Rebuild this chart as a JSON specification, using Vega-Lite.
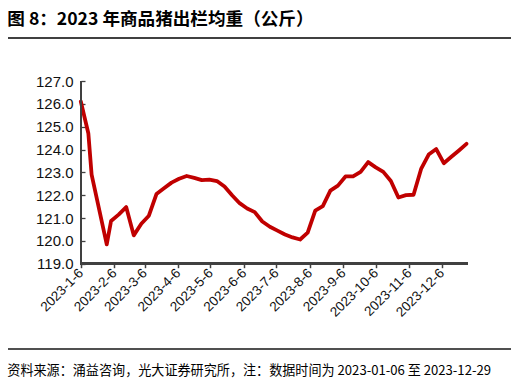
{
  "$schema": "https://vega.github.io/schema/vega-lite/v6.json",
  "background": "white",
  "padding": {"left": 7, "top": 10, "right": 6, "bottom": 4},
  "config": {"view": {"stroke": null}, "font": "Liberation Sans", "axis": {"labelOverlap": false}},
  "title": {
    "text": "资料来源：涌益咨询，光大证券研究所，注：数据时间为 2023-01-06 至 2023-12-29",
    "orient": "bottom", "anchor": "start", "font": "Noto Sans CJK SC",
    "fontSize": 13.1, "fontWeight": "normal", "color": "#000000", "offset": 15
  },
  "vconcat": [
    {
      "title": {
        "text": "图 8：2023 年商品猪出栏均重（公斤）",
        "anchor": "start", "font": "Noto Sans CJK SC", "fontSize": 17.6,
        "fontWeight": "bold", "color": "#000000", "offset": 9
      },
      "width": 503,
      "height": 311,
      "data": {
        "values": [
          {"date": "2023/01/06", "w": 126.1},
          {"date": "2023/01/13", "w": 124.7},
          {"date": "2023/01/16", "w": 122.9},
          {"date": "2023/01/30", "w": 119.85},
          {"date": "2023/02/03", "w": 120.87},
          {"date": "2023/02/10", "w": 121.15},
          {"date": "2023/02/17", "w": 121.48},
          {"date": "2023/02/24", "w": 120.24},
          {"date": "2023/03/03", "w": 120.75},
          {"date": "2023/03/10", "w": 121.1},
          {"date": "2023/03/17", "w": 122.05},
          {"date": "2023/03/24", "w": 122.3},
          {"date": "2023/03/31", "w": 122.55},
          {"date": "2023/04/07", "w": 122.72},
          {"date": "2023/04/14", "w": 122.84},
          {"date": "2023/04/21", "w": 122.76},
          {"date": "2023/04/28", "w": 122.66},
          {"date": "2023/05/05", "w": 122.68},
          {"date": "2023/05/12", "w": 122.62},
          {"date": "2023/05/19", "w": 122.38},
          {"date": "2023/05/26", "w": 122.0},
          {"date": "2023/06/02", "w": 121.65},
          {"date": "2023/06/09", "w": 121.42},
          {"date": "2023/06/16", "w": 121.26},
          {"date": "2023/06/23", "w": 120.85},
          {"date": "2023/06/30", "w": 120.62},
          {"date": "2023/07/07", "w": 120.45},
          {"date": "2023/07/14", "w": 120.28},
          {"date": "2023/07/21", "w": 120.15},
          {"date": "2023/07/28", "w": 120.06},
          {"date": "2023/08/04", "w": 120.36},
          {"date": "2023/08/11", "w": 121.32},
          {"date": "2023/08/18", "w": 121.52},
          {"date": "2023/08/25", "w": 122.2},
          {"date": "2023/09/01", "w": 122.42},
          {"date": "2023/09/08", "w": 122.82},
          {"date": "2023/09/15", "w": 122.82},
          {"date": "2023/09/22", "w": 123.02},
          {"date": "2023/09/29", "w": 123.45},
          {"date": "2023/10/06", "w": 123.22},
          {"date": "2023/10/13", "w": 123.02},
          {"date": "2023/10/20", "w": 122.62},
          {"date": "2023/10/27", "w": 121.9},
          {"date": "2023/11/03", "w": 122.0},
          {"date": "2023/11/10", "w": 122.02},
          {"date": "2023/11/17", "w": 123.15},
          {"date": "2023/11/24", "w": 123.78},
          {"date": "2023/12/01", "w": 124.02},
          {"date": "2023/12/08", "w": 123.4},
          {"date": "2023/12/15", "w": 123.68},
          {"date": "2023/12/22", "w": 123.96},
          {"date": "2023/12/29", "w": 124.25}
        ]
      },
      "layer": [
        {
          "mark": {"type": "line", "color": "#C00000", "strokeWidth": 3.8, "strokeJoin": "round", "strokeCap": "round"},
          "encoding": {
            "x": {
              "field": "date", "type": "temporal",
              "scale": {"domain": [
                {"year": 2022, "month": 10, "date": 30, "hours": 14, "minutes": 24},
                {"year": 2024, "month": 2, "date": 8, "hours": 5}
              ]},
              "axis": {
                "values": [
                  {"year": 2023, "month": 1, "date": 6},
                  {"year": 2023, "month": 2, "date": 6},
                  {"year": 2023, "month": 3, "date": 6},
                  {"year": 2023, "month": 4, "date": 6},
                  {"year": 2023, "month": 5, "date": 6},
                  {"year": 2023, "month": 6, "date": 6},
                  {"year": 2023, "month": 7, "date": 6},
                  {"year": 2023, "month": 8, "date": 6},
                  {"year": 2023, "month": 9, "date": 6},
                  {"year": 2023, "month": 10, "date": 6},
                  {"year": 2023, "month": 11, "date": 6},
                  {"year": 2023, "month": 12, "date": 6}
                ],
                "tickCount": 30,
                "format": "%Y-%-m-%-d",
                "labelAngle": -45, "labelAlign": "right", "labelBaseline": "middle",
                "labelOverlap": false, "labelFlush": false,
                "offset": -85.3, "domain": false, "grid": false,
                "tickColor": "#404040", "tickSize": 4, "tickWidth": 1.5,
                "labelFontSize": 13.5, "labelColor": "#111111", "labelPadding": 3,
                "title": null
              }
            },
            "y": {
              "field": "w", "type": "quantitative",
              "scale": {"domain": [115.265, 128.883], "nice": false, "zero": false},
              "axis": {
                "values": [119, 120, 121, 122, 123, 124, 125, 126, 127],
                "tickCount": 30,
                "format": ".1f", "offset": -73, "domain": false, "grid": false,
                "labelOverlap": false, "labelFlush": false,
                "tickColor": "#404040", "tickSize": -4, "tickWidth": 1.3,
                "labelFontSize": 15, "labelColor": "#111111", "labelPadding": 12,
                "title": null
              }
            }
          }
        },
        {
          "mark": {"type": "rule", "color": "#404040", "strokeWidth": 2},
          "encoding": {
            "x": {"datum": {"year": 2023, "month": 1, "date": 6}, "type": "temporal"},
            "x2": {"datum": {"year": 2023, "month": 12, "date": 30}},
            "y": {"datum": 119}
          }
        },
        {
          "mark": {"type": "rule", "color": "#404040", "strokeWidth": 1.4},
          "encoding": {
            "x": {"datum": {"year": 2023, "month": 1, "date": 6}, "type": "temporal"},
            "y": {"datum": 119},
            "y2": {"datum": 127}
          }
        },
        {
          "mark": {"type": "rule", "color": "#404040", "strokeWidth": 1.4},
          "encoding": {"y": {"datum": 128.883}}
        },
        {
          "mark": {"type": "rule", "color": "#505050", "strokeWidth": 1.4},
          "encoding": {"y": {"datum": 115.265}}
        }
      ]
    }
  ]
}
